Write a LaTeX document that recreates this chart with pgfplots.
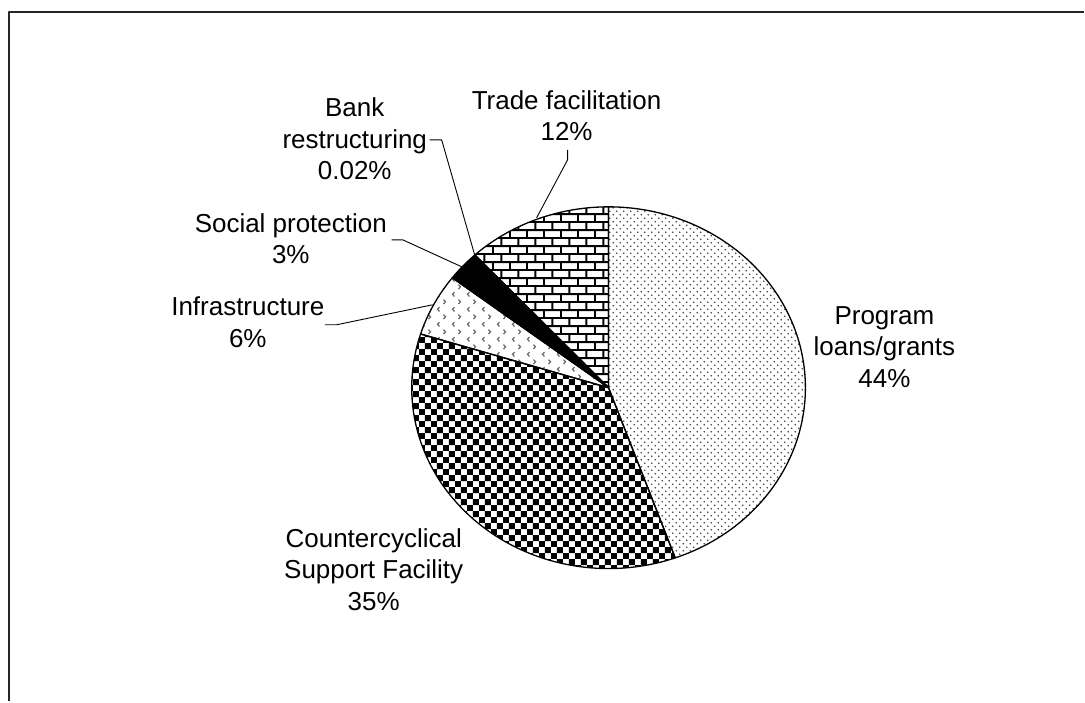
\documentclass[border=0pt]{standalone}
\usepackage{fontspec}
\setmainfont{Liberation Sans}
\usepackage{pgfplots}
\pgfplotsset{compat=1.18}
\usetikzlibrary{patterns}

\pgfdeclarepatternformonly{mydots}{\pgfqpoint{0pt}{0pt}}{\pgfqpoint{7pt}{7pt}}{\pgfqpoint{7pt}{7pt}}{%
  \pgfpathcircle{\pgfqpoint{1.75pt}{1.75pt}}{0.9pt}%
  \pgfpathcircle{\pgfqpoint{5.25pt}{5.25pt}}{0.9pt}%
  \pgfusepath{fill}}
\pgfdeclarepatternformonly{mychecker}{\pgfqpoint{0pt}{0pt}}{\pgfqpoint{12pt}{12pt}}{\pgfqpoint{12pt}{12pt}}{%
  \pgfpathrectangle{\pgfqpoint{0pt}{0pt}}{\pgfqpoint{6pt}{6pt}}%
  \pgfpathrectangle{\pgfqpoint{6pt}{6pt}}{\pgfqpoint{6pt}{6pt}}%
  \pgfusepath{fill}}
\pgfdeclarepatternformonly{mybricks}{\pgfqpoint{0pt}{0pt}}{\pgfqpoint{17pt}{16pt}}{\pgfqpoint{17pt}{16pt}}{%
  \pgfpathrectangle{\pgfqpoint{0pt}{0pt}}{\pgfqpoint{17pt}{2pt}}%
  \pgfpathrectangle{\pgfqpoint{0pt}{8pt}}{\pgfqpoint{17pt}{2pt}}%
  \pgfpathrectangle{\pgfqpoint{0pt}{0pt}}{\pgfqpoint{2pt}{8pt}}%
  \pgfpathrectangle{\pgfqpoint{8.5pt}{8pt}}{\pgfqpoint{2pt}{8pt}}%
  \pgfusepath{fill}}
\pgfdeclarepatternformonly{mychevron}{\pgfqpoint{0pt}{0pt}}{\pgfqpoint{15pt}{15pt}}{\pgfqpoint{15pt}{15pt}}{%
  \pgfsetlinewidth{1.2pt}%
  \pgfpathmoveto{\pgfqpoint{5.5pt}{1.5pt}}\pgfpathlineto{\pgfqpoint{3.5pt}{3.7pt}}\pgfpathlineto{\pgfqpoint{5.5pt}{5.9pt}}%
  \pgfpathmoveto{\pgfqpoint{9.5pt}{9pt}}\pgfpathlineto{\pgfqpoint{11.5pt}{11.2pt}}\pgfpathlineto{\pgfqpoint{9.5pt}{13.4pt}}%
  \pgfusepath{stroke}}

\begin{document}
\begin{tikzpicture}
\begin{axis}[
  scale only axis, width=1085pt, height=702pt,
  xmin=0, xmax=1085, ymin=0, ymax=702,
  hide axis, clip=false, no markers,
  every axis plot/.append style={line join=round},
]
\path (0,0) rectangle (1085,702);
% frame (cropped at right and bottom)
\addplot[black!85, line width=1.6pt] coordinates {(9,0) (9,690) (1085,690)};

% slices: shares in percent, clockwise from 12 o'clock
% Program loans/grants 44.5, Countercyclical 35.3, Infrastructure 5.6,
% Social protection 2.7, Bank restructuring 0.02, Trade facilitation 11.88
\addplot[draw=black, line width=1.3pt, pattern=mydots, pattern color=black!75, domain=-70.2:90, samples=120, variable=\t]
  ({609+197*cos(\t)}, {314+181*sin(\t)}) -- (609,314) -- cycle;
\addplot[draw=black, line width=1.3pt, pattern=mychecker, pattern color=black, domain=-197.28:-70.2, samples=100, variable=\t]
  ({609+197*cos(\t)}, {314+181*sin(\t)}) -- (609,314) -- cycle;
\addplot[draw=black, line width=1.3pt, pattern=mychevron, pattern color=black!60, domain=-217.44:-197.28, samples=20, variable=\t]
  ({609+197*cos(\t)}, {314+181*sin(\t)}) -- (609,314) -- cycle;
\addplot[draw=black, line width=1.3pt, fill=black, domain=-227.16:-217.44, samples=10, variable=\t]
  ({609+197*cos(\t)}, {314+181*sin(\t)}) -- (609,314) -- cycle;
\addplot[draw=black, line width=1.3pt, fill=black, domain=-227.232:-227.16, samples=2, variable=\t]
  ({609+197*cos(\t)}, {314+181*sin(\t)}) -- (609,314) -- cycle;
\addplot[draw=black, line width=1.3pt, pattern=mybricks, pattern color=black, domain=-270:-227.232, samples=40, variable=\t]
  ({609+197*cos(\t)}, {314+181*sin(\t)}) -- (609,314) -- cycle;

% leader lines
\addplot[black, line width=0.9pt] coordinates {(430,562) (442,562) (475,447)};
\addplot[black, line width=0.9pt] coordinates {(568,552) (568,542) (537,484)};
\addplot[black, line width=0.9pt] coordinates {(392,462) (403,462) (462,435)};
\addplot[black, line width=0.9pt] coordinates {(325,377) (337,377) (433,397)};

% labels
\begin{scope}[every node/.style={align=center, font=\fontsize{26}{31.5}\selectfont, inner sep=0pt}]
\node at (355,563) {Bank\\restructuring\\0.02\%};
\node at (567,586.5) {Trade facilitation\\12\%};
\node at (291,463) {Social protection\\3\%};
\node at (248,379.5) {Infrastructure\\6\%};
\node at (374,132) {Countercyclical\\Support Facility\\35\%};
\node at (885,355) {Program\\loans/grants\\44\%};
\end{scope}
\end{axis}
\end{tikzpicture}
\end{document}
